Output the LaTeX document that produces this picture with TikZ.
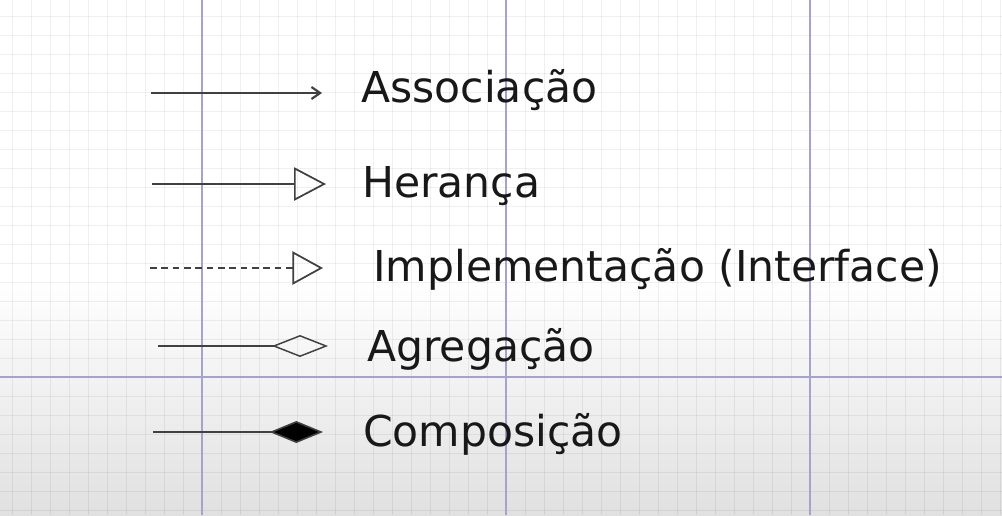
\documentclass[tikz,border=0pt]{standalone}
\usepackage{fontspec}
\setmainfont{DejaVu Sans}
\usetikzlibrary{arrows.meta}
\definecolor{majc}{HTML}{A6A2CE}
\definecolor{txtc}{HTML}{181818}
\definecolor{linec}{HTML}{404040}
\begin{document}
\begin{tikzpicture}[x=0.75pt,y=-0.75pt,
  lbl/.style={anchor=base west, inner sep=0pt, font=\fontsize{31.9}{38}\selectfont, text=txtc},
  conn/.style={draw=linec, line width=1.3pt},
  minorline/.style={draw=black, draw opacity=0.06, line width=0.6pt},
  majorline/.style={draw=majc, line width=1.3pt}]
\useasboundingbox (0,0) rectangle (1002,515);
\fill[white] (0,0) rectangle (1002,280);
\shade[top color=white, bottom color=black!12] (0,280) rectangle (1002,515);
% minor grid
\foreach \k in {0,...,52} { \draw[minorline] ({12+19*\k},0) -- ({12+19*\k},515); }
\foreach \k in {-7,...,19} { \draw[minorline] (0,{377-19*\k}) -- (1002,{377-19*\k}); }
% major grid
\foreach \xx in {202,506,810} { \draw[majorline] (\xx,0) -- (\xx,515); }
\draw[majorline] (0,377) -- (1002,377);
% connector end points
\coordinate (a1s) at (151,93);  \coordinate (a1e) at (322,93);
\coordinate (a2s) at (152,184); \coordinate (a2e) at (326,184);
\coordinate (a3s) at (150,268); \coordinate (a3e) at (323,268);
\coordinate (a4s) at (158,346); \coordinate (a4e) at (328,346);
\coordinate (a5s) at (153,432); \coordinate (a5e) at (323,432);
% connectors
\draw[conn, line width=1.6pt, -{Straight Barb[length=6.5pt,width=9pt]}] (a1s) -- (a1e);
\draw[conn, -{Triangle[open,length=24pt,width=25pt]}] (a2s) -- (a2e);
\draw[conn, dash pattern=on 5pt off 3.5pt, -{Triangle[open,length=23pt,width=25pt]}] (a3s) -- (a3e);
\draw[conn, line width=1.1pt, -{Diamond[open,length=42pt,width=16.5pt]}] (a4s) -- (a4e);
\draw[conn, line width=1.2pt, -{Diamond[length=40pt,width=16.5pt,fill=black]}] (a5s) -- (a5e);
% labels
\node[lbl] (t1) at (361,102) {Associação};
\node[lbl] (t2) at (362,197) {Herança};
\node[lbl] (t3) at (373,281) {Implementação (Interface)};
\node[lbl] (t4) at (367,361) {Agregação};
\node[lbl] (t5) at (363,446) {Composição};
\end{tikzpicture}
\end{document}
